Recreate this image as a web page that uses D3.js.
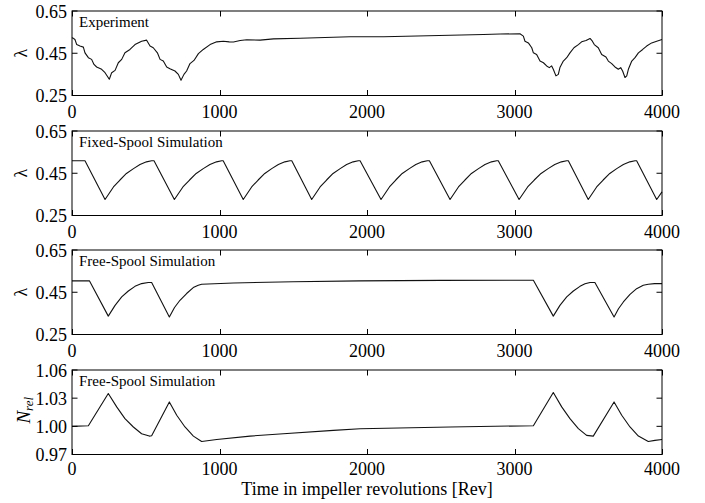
<!DOCTYPE html>
<html>
<head>
<meta charset="utf-8">
<script src="https://cdn.jsdelivr.net/npm/d3@7"></script>
<style>
  html, body { margin: 0; padding: 0; background: #fff; }
  svg { display: block; }
  text { font-family: "Liberation Serif", "Times New Roman", serif; fill: #000; }
</style>
</head>
<body>
<svg id="chart" width="705" height="503"></svg>
<script>
const xTicks = [0, 1000, 2000, 3000, 4000];
const lambdaTicks = [0.25, 0.45, 0.65];
const nrelTicks = [0.97, 1.00, 1.03, 1.06];
const panelTitles = ["Experiment", "Fixed-Spool Simulation", "Free-Spool Simulation", "Free-Spool Simulation"];
const xTitle = "Time in impeller revolutions [Rev]";

const experiment = [
[0,0.521],[5,0.523],[20,0.515],[32,0.491],[54,0.484],[77,0.479],[88,0.452],[111,0.429],[133,0.421],[149,0.397],[167,0.385],[201,0.374],[224,0.358],[253,0.327],[269,0.358],[292,0.369],[314,0.405],[337,0.421],[359,0.452],[393,0.468],[427,0.491],[472,0.507],[506,0.512],[529,0.484],[551,0.476],[579,0.452],[597,0.421],[619,0.413],[642,0.385],[664,0.377],[698,0.366],[721,0.350],[739,0.322],[759,0.350],[777,0.366],[800,0.401],[827,0.416],[857,0.448],[890,0.468],[936,0.491],[981,0.504],[1026,0.507],[1066,0.504],[1095,0.503],[1140,0.510],[1185,0.514],[1275,0.512],[1366,0.518],[1546,0.521],[1772,0.526],[1887,0.528],[2113,0.528],[2339,0.532],[2564,0.535],[2790,0.539],[2902,0.541],[3037,0.542],[3060,0.531],[3071,0.507],[3094,0.499],[3117,0.476],[3128,0.452],[3150,0.444],[3173,0.413],[3196,0.405],[3218,0.390],[3236,0.382],[3252,0.390],[3263,0.374],[3281,0.343],[3297,0.350],[3308,0.382],[3331,0.413],[3354,0.429],[3376,0.452],[3403,0.476],[3433,0.491],[3455,0.504],[3485,0.510],[3512,0.520],[3528,0.507],[3541,0.491],[3568,0.476],[3591,0.444],[3620,0.432],[3636,0.413],[3659,0.401],[3681,0.385],[3704,0.374],[3720,0.382],[3733,0.366],[3749,0.335],[3761,0.343],[3772,0.374],[3795,0.413],[3817,0.429],[3840,0.452],[3869,0.468],[3896,0.484],[3930,0.499],[3964,0.507],[4000,0.515]
];

const fixedSpool = [
[0,0.509],[88,0.509],
[224,0.326],[281,0.385],[325,0.418],[369,0.449],[417,0.472],[461,0.491],[505,0.504],[540,0.509],[556,0.509],
[694,0.326],[752,0.385],[797,0.418],[842,0.449],[890,0.472],[935,0.491],[980,0.504],[1015,0.509],[1025,0.509],
[1161,0.326],[1218,0.385],[1262,0.418],[1307,0.449],[1354,0.472],[1399,0.491],[1443,0.504],[1478,0.509],[1490,0.509],
[1625,0.326],[1682,0.385],[1726,0.418],[1770,0.449],[1818,0.472],[1862,0.491],[1906,0.504],[1941,0.509],[1953,0.509],
[2095,0.326],[2152,0.385],[2195,0.418],[2239,0.449],[2287,0.472],[2331,0.491],[2374,0.504],[2409,0.509],[2423,0.509],
[2563,0.326],[2620,0.385],[2664,0.418],[2708,0.449],[2756,0.472],[2800,0.491],[2844,0.504],[2879,0.509],[2890,0.509],
[3031,0.326],[3089,0.385],[3134,0.418],[3180,0.449],[3228,0.472],[3273,0.491],[3318,0.504],[3354,0.509],[3365,0.509],
[3500,0.326],[3557,0.385],[3601,0.418],[3646,0.449],[3693,0.472],[3738,0.491],[3782,0.504],[3817,0.509],[3828,0.509],
[3964,0.326],[4000,0.362]
];

const freeSpoolLambda = [
[0,0.504],[118,0.504],[246,0.337],[292,0.388],[337,0.428],[382,0.456],[427,0.478],[472,0.491],[517,0.496],[540,0.496],[660,0.333],[695,0.378],[732,0.412],[777,0.444],[822,0.472],[856,0.483],[879,0.488],[1094,0.494],[1500,0.500],[1953,0.504],[2500,0.506],[3128,0.507],[3263,0.337],[3308,0.388],[3354,0.428],[3399,0.456],[3444,0.478],[3478,0.490],[3512,0.496],[3545,0.496],[3675,0.333],[3705,0.372],[3738,0.404],[3783,0.440],[3828,0.467],[3873,0.483],[3907,0.488],[3950,0.491],[4000,0.491]
];

const freeSpoolNrel = [
[0,1.000],[111,1.0007],[246,1.035],[303,1.0207],[359,1.0082],[416,0.9993],[472,0.9921],[524,0.9896],[540,0.990],[660,1.026],[710,1.0118],[766,0.9993],[823,0.9896],[879,0.9839],[981,0.986],[1207,0.9896],[1433,0.9921],[1772,0.9957],[1953,0.9975],[2563,0.9993],[3128,1.0007],[3263,1.036],[3320,1.0207],[3376,1.0082],[3433,0.9975],[3489,0.9904],[3534,0.9896],[3675,1.026],[3727,1.0118],[3783,0.9993],[3840,0.9896],[3907,0.9839],[3952,0.985],[4000,0.986]
];

const panels = [
  {title: panelTitles[0], data: experiment, domain: [0.25, 0.65], ticks: lambdaTicks, label: "lambda"},
  {title: panelTitles[1], data: fixedSpool, domain: [0.25, 0.65], ticks: lambdaTicks, label: "lambda"},
  {title: panelTitles[2], data: freeSpoolLambda, domain: [0.25, 0.65], ticks: lambdaTicks, label: "lambda"},
  {title: panelTitles[3], data: freeSpoolNrel, domain: [0.97, 1.06], ticks: nrelTicks, label: "nrel"}
];

const svg = d3.select("#chart");
const left = 72, right = 662;
const tops = [11, 131, 250, 370];
const ph = 84.5;
const tickLen = 5.5;
const fmt = d3.format(".2f");

const x = d3.scaleLinear().domain([0, 4000]).range([left, right]);

panels.forEach((p, i) => {
  const top = tops[i], bottom = top + ph;
  const y = d3.scaleLinear().domain(p.domain).range([bottom, top]);
  const g = svg.append("g");

  const line = d3.line().x(d => x(d[0])).y(d => y(d[1])).curve(d3.curveLinear);
  g.append("path").datum(p.data)
    .attr("d", line)
    .attr("fill", "none")
    .attr("stroke", "#111")
    .attr("stroke-width", 1.1)
    .attr("stroke-linejoin", "round");

  g.append("rect")
    .attr("x", left).attr("y", top)
    .attr("width", right - left).attr("height", ph)
    .attr("fill", "none").attr("stroke", "#000").attr("stroke-width", 1);

  const labelOffset = i === panels.length - 1 ? 20 : 22;
  xTicks.forEach(t => {
    const xp = Math.round(x(t)) + 0.5;
    g.append("line").attr("x1", xp).attr("x2", xp).attr("y1", bottom).attr("y2", bottom - tickLen)
      .attr("stroke", "#000").attr("stroke-width", 1);
    g.append("line").attr("x1", xp).attr("x2", xp).attr("y1", top).attr("y2", top + tickLen)
      .attr("stroke", "#000").attr("stroke-width", 1);
    g.append("text").attr("x", x(t)).attr("y", bottom + labelOffset)
      .attr("text-anchor", "middle").attr("font-size", 18).text(t);
  });

  p.ticks.forEach(t => {
    const yp = y(t);
    g.append("line").attr("x1", left).attr("x2", left + tickLen).attr("y1", yp).attr("y2", yp)
      .attr("stroke", "#000").attr("stroke-width", 1);
    g.append("line").attr("x1", right).attr("x2", right - tickLen).attr("y1", yp).attr("y2", yp)
      .attr("stroke", "#000").attr("stroke-width", 1);
    g.append("text").attr("x", left - 5).attr("y", yp + 6.5)
      .attr("text-anchor", "end").attr("font-size", 18).text(fmt(t));
  });

  g.append("text").attr("x", left + 7).attr("y", top + 16)
    .attr("font-size", 15).text(p.title);

  const cy = (top + bottom) / 2;
  if (p.label === "lambda") {
    g.append("text").attr("transform", `translate(27,${cy}) rotate(-90)`)
      .attr("text-anchor", "middle").attr("font-size", 18).text("λ");
  } else {
    const t = g.append("text").attr("transform", `translate(30,${cy - 2}) rotate(-90)`)
      .attr("text-anchor", "middle").attr("font-size", 19).attr("font-style", "italic");
    t.append("tspan").text("N");
    t.append("tspan").attr("font-size", 13).attr("dy", 3).text("rel");
  }
});

svg.append("text").attr("x", (left + right) / 2).attr("y", 495)
  .attr("text-anchor", "middle").attr("font-size", 18).text(xTitle);
</script>
</body>
</html>
